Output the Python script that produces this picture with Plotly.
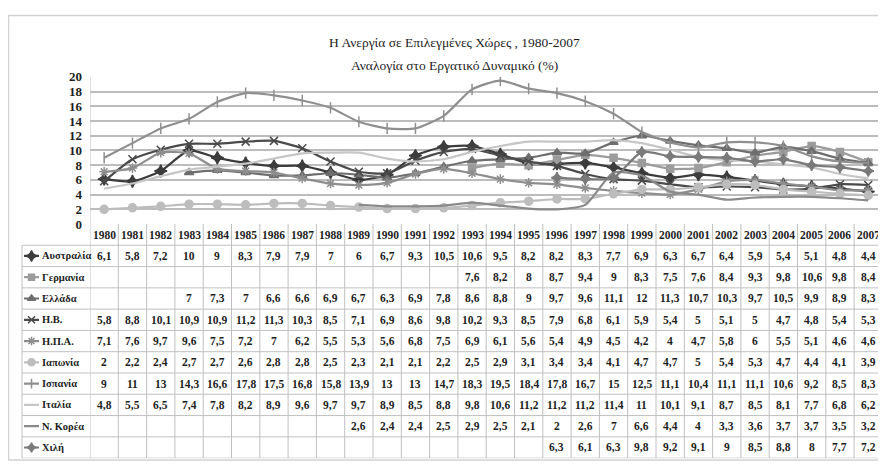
import plotly.graph_objects as go

years = list(range(1980, 2008))
countries = ["Αυστραλία", "Γερμανία", "Ελλάδα", "Η.Β.", "Η.Π.Α.",
             "Ιαπωνία", "Ισπανία", "Ιταλία", "Ν. Κορέα", "Χιλή"]

australia = [6.1, 5.8, 7.2, 10, 9, 8.3, 7.9, 7.9, 7, 6, 6.7, 9.3, 10.5, 10.6, 9.5,
             8.2, 8.2, 8.3, 7.7, 6.9, 6.3, 6.7, 6.4, 5.9, 5.4, 5.1, 4.8, 4.4]
germany = [None] * 13 + [7.6, 8.2, 8, 8.7, 9.4, 9, 8.3, 7.5, 7.6, 8.4, 9.3, 9.8,
                         10.6, 9.8, 8.4]
greece = [None] * 3 + [7, 7.3, 7, 6.6, 6.6, 6.9, 6.7, 6.3, 6.9, 7.8, 8.6, 8.8, 9,
                       9.7, 9.6, 11.1, 12, 11.3, 10.7, 10.3, 9.7, 10.5, 9.9, 8.9, 8.3]
uk = [5.8, 8.8, 10.1, 10.9, 10.9, 11.2, 11.3, 10.3, 8.5, 7.1, 6.9, 8.6, 9.8, 10.2,
      9.3, 8.5, 7.9, 6.8, 6.1, 5.9, 5.4, 5, 5.1, 5, 4.7, 4.8, 5.4, 5.3]
usa = [7.1, 7.6, 9.7, 9.6, 7.5, 7.2, 7, 6.2, 5.5, 5.3, 5.6, 6.8, 7.5, 6.9, 6.1,
       5.6, 5.4, 4.9, 4.5, 4.2, 4, 4.7, 5.8, 6, 5.5, 5.1, 4.6, 4.6]
japan = [2, 2.2, 2.4, 2.7, 2.7, 2.6, 2.8, 2.8, 2.5, 2.3, 2.1, 2.1, 2.2, 2.5, 2.9,
         3.1, 3.4, 3.4, 4.1, 4.7, 4.7, 5, 5.4, 5.3, 4.7, 4.4, 4.1, 3.9]
spain = [9, 11, 13, 14.3, 16.6, 17.8, 17.5, 16.8, 15.8, 13.9, 13, 13, 14.7, 18.3,
         19.5, 18.4, 17.8, 16.7, 15, 12.5, 11.1, 10.4, 11.1, 11.1, 10.6, 9.2, 8.5, 8.3]
italy = [4.8, 5.5, 6.5, 7.4, 7.8, 8.2, 8.9, 9.6, 9.7, 9.7, 8.9, 8.5, 8.8, 9.8,
         10.6, 11.2, 11.2, 11.2, 11.4, 11, 10.1, 9.1, 8.7, 8.5, 8.1, 7.7, 6.8, 6.2]
korea = [None] * 9 + [2.6, 2.4, 2.4, 2.5, 2.9, 2.5, 2.1, 2, 2.6, 7, 6.6, 4.4, 4,
                      3.3, 3.6, 3.7, 3.7, 3.5, 3.2]
chile = [None] * 16 + [6.3, 6.1, 6.3, 9.8, 9.2, 9.1, 9, 8.5, 8.8, 8, 7.7, 7.2]

series = [australia, germany, greece, uk, usa, japan, spain, italy, korea, chile]
y_ticks = list(range(0, 21, 2))

# styles: (colour, marker symbol, marker size)
styles = [
    ("#3c3c3c", "star-diamond", 9),
    ("#9c9c9c", "square", 7),
    ("#6e6e6e", "triangle-up", 8),
    ("#4a4a4a", "x-thin-open", 8),
    ("#8e8e8e", "asterisk-open", 8),
    ("#bdbdbd", "circle", 8),
    ("#8f8f8f", "line-ns-open", 8),
    ("#c6c6c6", None, 0),
    ("#8a8a8a", None, 0),
    ("#7a7a7a", "star-diamond", 8),
]

# the page body adds an 8px margin, so the figure is laid out in screen pixels
OFF = 8
W, H = 878, 462
SERIF = "'Liberation Serif', 'Times New Roman', Times, serif"


def fx(s):
    return (s - OFF) / W


def fy(s):
    return 1 - (s - OFF) / H


PLOT_L, PLOT_TOP, PLOT_BOT = 90, 72, 224
COL_W = 28.3
TAB_L, TAB_BOT = 22, 466
NROWS = len(countries) + 1
x_end = years[0] - 0.5 + (OFF + W - PLOT_L) / COL_W

fig = go.Figure()

for i, (name, vals, (col, sym, sz)) in enumerate(zip(countries, series, styles)):
    mode = "lines+markers" if sym else "lines"
    mk = dict(symbol=sym, size=sz, color=col,
              line=dict(color=col, width=1.5)) if sym else None
    fig.add_trace(go.Scatter(
        x=years, y=vals, mode=mode, name=name,
        line=dict(color=col, width=2.2, shape="spline", smoothing=0.6),
        marker=mk, connectgaps=False, showlegend=False,
        xaxis="x", yaxis="y"))
    row = i + 1.5
    fig.add_trace(go.Scatter(
        x=[0.03, 0.25], y=[row, row], mode="lines",
        line=dict(color=col, width=2.2), showlegend=False,
        xaxis="x3", yaxis="y3", hoverinfo="skip"))
    if sym:
        fig.add_trace(go.Scatter(
            x=[0.14], y=[row], mode="markers",
            marker=dict(symbol=sym, size=sz - 1, color=col,
                        line=dict(color=col, width=1.5)),
            showlegend=False, xaxis="x3", yaxis="y3", hoverinfo="skip"))

shapes = []
ann = []

# outer frame
shapes.append(dict(type="rect", xref="paper", yref="paper",
                   x0=fx(8.5), x1=fx(900), y0=fy(468), y1=fy(8.5),
                   line=dict(color="#d2d2d2", width=1.5)))

grid_col = "#c0c0c0"
for r in range(1, NROWS + 1):
    shapes.append(dict(type="line", xref="paper", yref="y3",
                       x0=fx(TAB_L), x1=1, y0=r, y1=r,
                       line=dict(color=grid_col, width=1)))
for b in [y - 0.5 for y in years] + [years[-1] + 0.5]:
    shapes.append(dict(type="line", xref="x", yref="y3",
                       x0=b, x1=b, y0=0, y1=NROWS,
                       line=dict(color=grid_col, width=1)))
shapes.append(dict(type="line", xref="paper", yref="y3",
                   x0=fx(TAB_L), x1=fx(TAB_L), y0=1, y1=NROWS,
                   line=dict(color=grid_col, width=1)))
shapes.append(dict(type="line", xref="x", yref="y",
                   x0=years[0] - 0.5, x1=years[0] - 0.5, y0=0, y1=20,
                   line=dict(color=grid_col, width=1)))

cell_font = dict(family=SERIF, size=11.5, color="#1e1e1e")
for yr in years:
    ann.append(dict(x=yr, y=0.5, xref="x", yref="y3", text=f"<b>{yr}</b>",
                    showarrow=False, font=cell_font))
for i, (name, vals) in enumerate(zip(countries, series)):
    ann.append(dict(x=0.265, y=i + 1.5, xref="x3", yref="y3",
                    text=f"<b>{name}</b>", xanchor="left", showarrow=False,
                    font=dict(family=SERIF, size=10.5, color="#1e1e1e")))
    for yr, v in zip(years, vals):
        if v is None:
            continue
        ann.append(dict(x=yr, y=i + 1.5, xref="x", yref="y3",
                        text=f"<b>{v:g}</b>".replace(".", ","),
                        showarrow=False, font=cell_font))

ann.append(dict(x=fx(454), y=fy(27), xref="paper", yref="paper",
                text="Η Ανεργία σε Επιλεγμένες Χώρες , 1980-2007", showarrow=False,
                font=dict(family=SERIF, size=13.5, color="#1e1e1e")))
ann.append(dict(x=fx(454), y=fy(50), xref="paper", yref="paper",
                text="Αναλογία στο Εργατικό Δυναμικό (%)", showarrow=False,
                font=dict(family=SERIF, size=13.5, color="#1e1e1e")))

fig.update_layout(
    width=W, height=H, margin=dict(l=0, r=0, t=0, b=0),
    paper_bgcolor="white", plot_bgcolor="white",
    showlegend=False,
    font=dict(family=SERIF),
    xaxis=dict(domain=[fx(PLOT_L), 1], range=[years[0] - 0.5, x_end],
               showticklabels=False, showgrid=False, zeroline=False,
               showline=False, anchor="y", fixedrange=True),
    yaxis=dict(domain=[fy(PLOT_BOT), fy(PLOT_TOP)], range=[0, 20],
               tickvals=y_ticks, ticktext=[f"<b>{t}</b>" for t in y_ticks],
               showgrid=True, gridcolor="#bcbcbc", gridwidth=1.5,
               zeroline=False, showline=False, ticks="", ticklabelstandoff=7,
               tickfont=dict(family=SERIF, size=13, color="#1e1e1e"),
               anchor="x"),
    xaxis3=dict(domain=[fx(TAB_L), fx(PLOT_L)], range=[0, 1], visible=False,
                anchor="y3"),
    yaxis3=dict(domain=[fy(TAB_BOT), fy(PLOT_BOT)], range=[NROWS, 0],
                visible=False, anchor="x3"),
    shapes=shapes, annotations=ann,
)

fig.write_html("out.html")
